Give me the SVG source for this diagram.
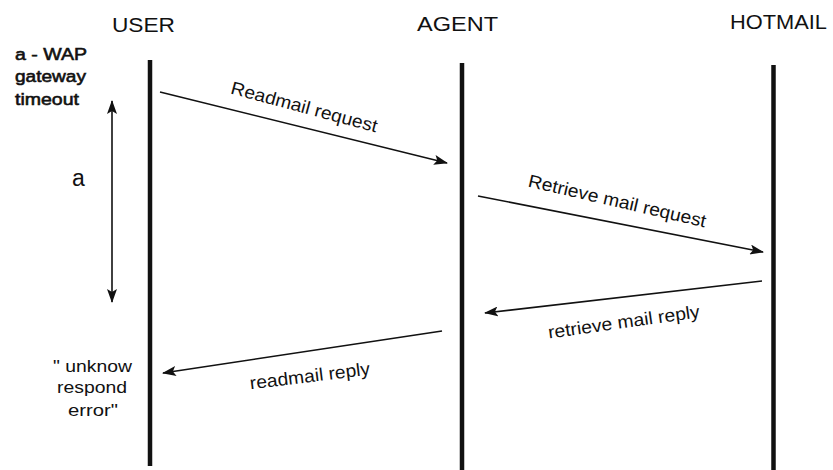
<svg xmlns="http://www.w3.org/2000/svg" width="833" height="470" viewBox="0 0 833 470">
<style>
text{font-family:"Liberation Sans",Arial,sans-serif;fill:#111}
.title{font-size:20px}
.lab{font-size:18px}
.note{font-size:17px}
.heavy{stroke:#111;stroke-width:0.6}
.life{stroke:#111;stroke-width:4.5}
.msg{stroke:#111;stroke-width:1.6;fill:none}
</style>
<defs>
<marker id="ah" viewBox="0 0 14 10" refX="13" refY="5" markerWidth="14" markerHeight="10" markerUnits="userSpaceOnUse" orient="auto-start-reverse">
<path d="M0,0 L14,5 L0,10 L3,5 Z" fill="#111"/>
</marker>
</defs>
<rect width="833" height="470" fill="#fff"/>
<g id="user">
<text class="title" x="112" y="32" textLength="63" lengthAdjust="spacingAndGlyphs">USER</text>
<line class="life" x1="150" y1="60" x2="150" y2="466"/>
</g>
<g id="agent">
<text class="title" x="417" y="31" textLength="81" lengthAdjust="spacingAndGlyphs">AGENT</text>
<line class="life" x1="462" y1="63" x2="462" y2="470"/>
</g>
<g id="hotmail">
<text class="title" x="730" y="29" textLength="97" lengthAdjust="spacingAndGlyphs">HOTMAIL</text>
<line class="life" x1="773.5" y1="65" x2="773.5" y2="470"/>
</g>
<g id="notes">
<text class="note heavy" x="15" y="60" textLength="72" lengthAdjust="spacingAndGlyphs">a - WAP</text>
<text class="note heavy" x="15" y="82" textLength="71" lengthAdjust="spacingAndGlyphs">gateway</text>
<text class="note heavy" x="15" y="105" textLength="64" lengthAdjust="spacingAndGlyphs">timeout</text>
<text font-size="23" x="72" y="186">a</text>
<text class="note" x="53" y="372" textLength="79" lengthAdjust="spacingAndGlyphs">" unknow</text>
<text class="note" x="57" y="393" textLength="70" lengthAdjust="spacingAndGlyphs">respond</text>
<text class="note" x="68" y="416" textLength="50" lengthAdjust="spacingAndGlyphs">error"</text>
</g>
<g id="connectors">
<line class="msg" x1="112" y1="101" x2="112" y2="302" marker-start="url(#ah)" marker-end="url(#ah)"/>
<line class="msg" x1="160" y1="92" x2="447" y2="163" marker-end="url(#ah)"/>
<line class="msg" x1="478" y1="196" x2="763" y2="252" marker-end="url(#ah)"/>
<line class="msg" x1="762" y1="281" x2="485" y2="313" marker-end="url(#ah)"/>
<line class="msg" x1="442" y1="331" x2="163" y2="373" marker-end="url(#ah)"/>
</g>
<g id="labels">
<text class="lab" text-anchor="middle" transform="translate(304,108) rotate(15)" y="5" textLength="151" lengthAdjust="spacingAndGlyphs">Readmail request</text>
<text class="lab" text-anchor="middle" transform="translate(617,202) rotate(13)" y="5" textLength="182" lengthAdjust="spacingAndGlyphs">Retrieve mail request</text>
<text class="lab" text-anchor="middle" transform="translate(624,323) rotate(-8)" y="5" textLength="153" lengthAdjust="spacingAndGlyphs">retrieve mail reply</text>
<text class="lab" text-anchor="middle" transform="translate(310,377) rotate(-7)" y="5" textLength="121" lengthAdjust="spacingAndGlyphs">readmail reply</text>
</g>
</svg>
